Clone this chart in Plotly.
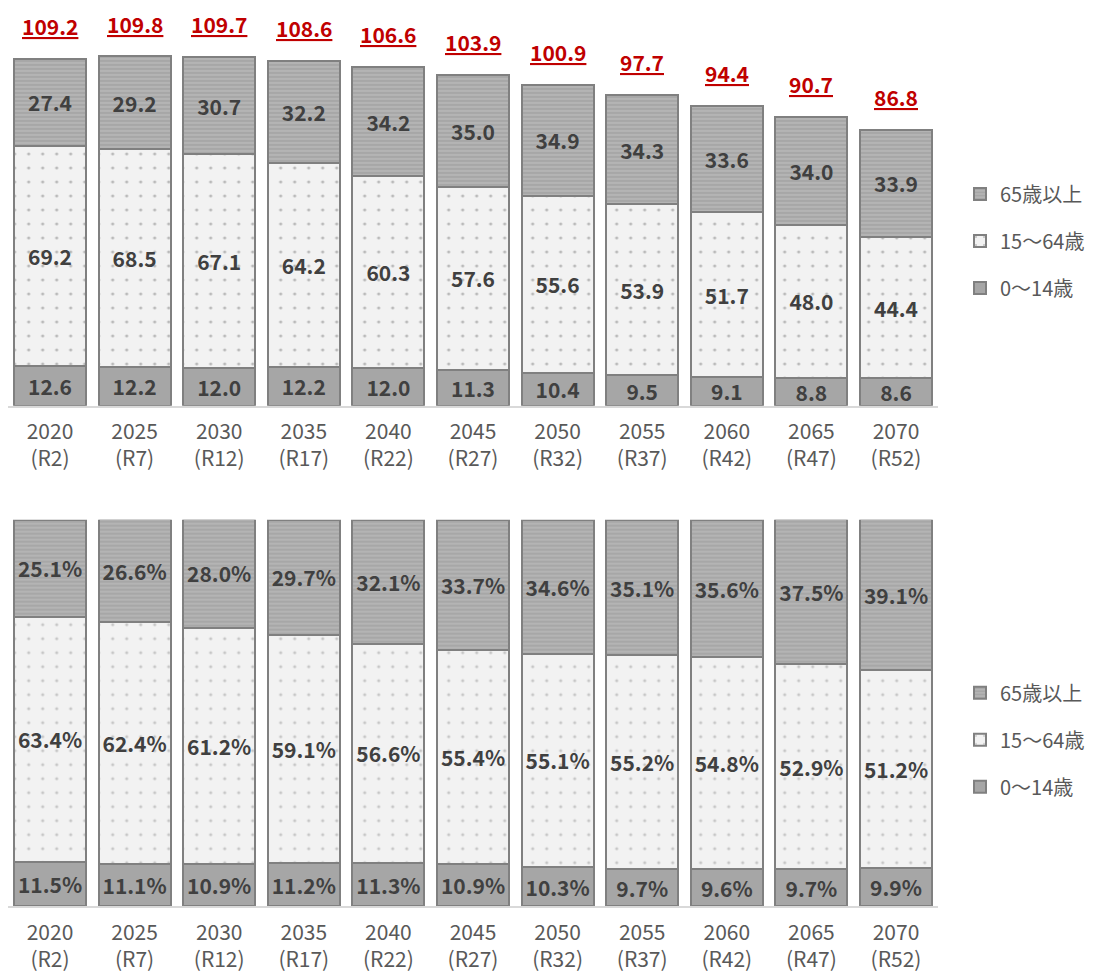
import plotly.graph_objects as go

years = ["2020<br>(R2)", "2025<br>(R7)", "2030<br>(R12)", "2035<br>(R17)", "2040<br>(R22)",
         "2045<br>(R27)", "2050<br>(R32)", "2055<br>(R37)", "2060<br>(R42)", "2065<br>(R47)", "2070<br>(R52)"]

age0_14 = [12.6, 12.2, 12.0, 12.2, 12.0, 11.3, 10.4, 9.5, 9.1, 8.8, 8.6]
age15_64 = [69.2, 68.5, 67.1, 64.2, 60.3, 57.6, 55.6, 53.9, 51.7, 48.0, 44.4]
age65 = [27.4, 29.2, 30.7, 32.2, 34.2, 35.0, 34.9, 34.3, 33.6, 34.0, 33.9]
totals = [109.2, 109.8, 109.7, 108.6, 106.6, 103.9, 100.9, 97.7, 94.4, 90.7, 86.8]

pct0_14 = [11.5, 11.1, 10.9, 11.2, 11.3, 10.9, 10.3, 9.7, 9.6, 9.7, 9.9]
pct15_64 = [63.4, 62.4, 61.2, 59.1, 56.6, 55.4, 55.1, 55.2, 54.8, 52.9, 51.2]
pct65 = [25.1, 26.6, 28.0, 29.7, 32.1, 33.7, 34.6, 35.1, 35.6, 37.5, 39.1]

names = ["0〜14歳", "15〜64歳", "65歳以上"]

FONT = "Noto Sans CJK JP, Noto Sans, sans-serif"
LBL = "#404040"
EDGE = "#808080"

fig = go.Figure()

def styles(i, bottom=False):
    if i == 0:
        return dict(color="#A6A6A6", line=dict(color=EDGE, width=2))
    if i == 1:
        return dict(color="#F2F2F2", line=dict(color=EDGE, width=2),
                    pattern=dict(shape=".", fgcolor="#7F7F7F" if not bottom else "#9A9A9A",
                                 bgcolor="#F2F2F2", size=14, solidity=0.04))
    return dict(color="#ABABAB", line=dict(color=EDGE, width=2),
                pattern=dict(shape="-", fgcolor="#9A9A9A", bgcolor="#B4B4B4", size=4, solidity=0.5))

ranks = [3, 2, 1]

for i, vals in enumerate([age0_14, age15_64, age65]):
    fig.add_trace(go.Bar(
        x=years, y=vals, name=names[i], marker=styles(i),
        texttemplate="<b>%{y:.1f}</b>", textposition="inside", insidetextanchor="middle",
        textangle=0, constraintext="none",
        textfont=dict(size=21, color=LBL, family=FONT),
        xaxis="x", yaxis="y", legend="legend", legendgroup="a" + str(i), legendrank=ranks[i],
    ))

for i, vals in enumerate([pct0_14, pct15_64, pct65]):
    fig.add_trace(go.Bar(
        x=years, y=vals, name=names[i], marker=styles(i, True),
        texttemplate="<b>%{y:.1f}%</b>", textposition="inside", insidetextanchor="middle",
        textangle=0, constraintext="none",
        textfont=dict(size=21, color=LBL, family=FONT),
        xaxis="x2", yaxis="y2", legend="legend2", legendgroup="b" + str(i), legendrank=ranks[i],
    ))

for x, t in zip(years, totals):
    fig.add_annotation(x=x, y=t, xref="x", yref="y", text="<b><u>%.1f</u></b>" % t,
                       showarrow=False, yanchor="middle", yshift=33,
                       font=dict(size=21, color="#C00000", family=FONT))

W, H = 1104, 973
xdom = [7.7 / W, 938.3 / W]
axis_common = dict(showline=True, linecolor="#D9D9D9", linewidth=2, ticks="",
                   ticklabelstandoff=6,
                   tickfont=dict(size=21, color="#595959", family=FONT), showgrid=False)

leg_common = dict(xanchor="left", yanchor="middle", traceorder="grouped", tracegroupgap=18,
                  font=dict(size=20, color="#595959", family=FONT), bgcolor="rgba(0,0,0,0)")

fig.update_layout(
    width=W, height=H, margin=dict(l=0, r=0, t=0, b=0),
    paper_bgcolor="white", plot_bgcolor="white",
    barmode="stack", bargap=0.15,
    font=dict(family=FONT, color="#595959"),
    xaxis=dict(domain=xdom, anchor="y", **axis_common),
    yaxis=dict(domain=[1 - 409 / H, 1 - 7 / H], range=[0, 402 / 3.204], visible=False),
    xaxis2=dict(domain=xdom, anchor="y2", **axis_common),
    yaxis2=dict(domain=[1 - 914 / H, 1 - 524 / H], range=[0, 100], visible=False),
    legend=dict(x=960 / W, y=1 - 243 / H, **leg_common),
    legend2=dict(x=960 / W, y=1 - 746 / H, **leg_common),
    showlegend=True,
)

fig.write_html("out.html", config={"displayModeBar": False},
               post_script="document.body.style.margin='0';document.body.style.overflow='hidden';")
